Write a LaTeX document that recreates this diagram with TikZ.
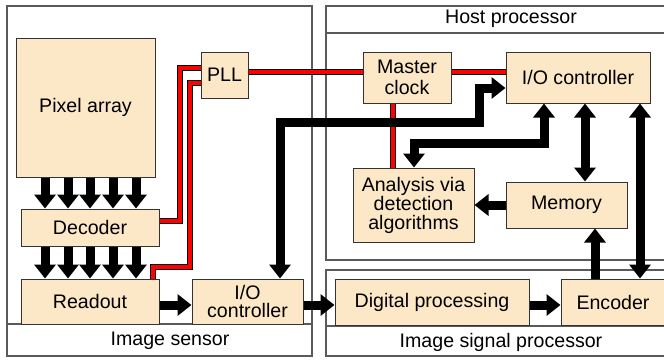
\documentclass[tikz,border=0pt]{standalone}
\usepackage{fontspec}
\setmainfont{Liberation Sans}
\usetikzlibrary{arrows.meta}
\definecolor{blockfill}{HTML}{FCE8C6}
\definecolor{framegray}{HTML}{5A5A5A}

\tikzset{
    block/.style={draw=black!80,line width=1pt,fill=blockfill,inner sep=0pt,align=center},
    frame/.style={draw=framegray,line width=1.1pt},
    bus/.style={line width=9pt,line join=miter,>={Triangle[width=21pt,length=14pt]}},
    clockline/.style={draw=black,line width=1pt,double=red,double distance=3.2pt,line join=miter},
}

\begin{document}
\begin{tikzpicture}[x=1pt,y=-1pt,font=\fontsize{19.6}{21}\selectfont]
    \clip (0,0) rectangle (664,360);
    \fill[white] (0,0) rectangle (664,360);

    % chip outlines
    \draw[frame] (7,6) rectangle (312,356);
    \draw[frame] (7,324) -- (312,324);
    \node (sensorlabel) at (170,341) {Image sensor};
    \draw[frame] (326,6) rectangle (700,260);
    \draw[frame] (326,33) -- (700,33);
    \node (hostlabel) at (511,19) {Host processor};
    \draw[frame] (326,270) rectangle (700,356);
    \draw[frame] (326,326) -- (700,326);
    \node (isplabel) at (501,342) {Image signal processor};

    % blocks
    \node[block,minimum width=139,minimum height=139] (pixel) at (85.5,107.5) {Pixel array};
    \node[block,minimum width=47,minimum height=46] (pll) at (224.5,75) {PLL};
    \node[block,minimum width=138,minimum height=37] (decoder) at (90,227.5) {Decoder};
    \node[block,minimum width=138,minimum height=45] (readout) at (90,301.5) {Readout};
    \node[block,minimum width=111,minimum height=45] (iosens) at (247.5,301.5) {I/O\\[-3pt]controller};
    \node[block,minimum width=88,minimum height=51] (master) at (407,77.5) {Master\\clock};
    \node[block,minimum width=144,minimum height=51] (iohost) at (578,77.5) {I/O controller};
    \node[block,minimum width=121,minimum height=74] (analysis) at (413.5,205) {Analysis via\\[-2pt]detection\\[-2pt]algorithms};
    \node[block,minimum width=121,minimum height=46] (memory) at (566.5,205) {Memory};
    \node[block,minimum width=194,minimum height=46] (digital) at (432,302) {Digital processing};
    \node[block,minimum width=104,minimum height=46] (encoder) at (613,302) {Encoder};

    % clock distribution
    \draw[clockline] (pll.east |- 0,72) -- (master.west |- 0,72);
    \draw[clockline] (master.east |- 0,72) -- (iohost.west |- 0,72);
    \draw[clockline] (master.south -| 393,0) -- (analysis.north -| 393,0);
    \draw[clockline] (pll.west |- 0,68) -| (180,221) -- (decoder.east |- 0,221);
    \draw[clockline] (pll.west |- 0,83) -| (190,267) -| (readout.north -| 153,0);

    % data paths
    \foreach \x in {45,68,90,113,136} {
        \draw[bus,->] (pixel.south -| \x,0) -- (decoder.north -| \x,0);
        \draw[bus,->] (decoder.south -| \x,0) -- (readout.north -| \x,0);
    }
    \draw[bus,->] (readout.east |- 0,305) -- (iosens.west |- 0,305);
    \draw[bus,->] (iosens.east |- 0,305) -- (digital.west |- 0,305);
    \draw[bus,->] (digital.east |- 0,305) -- (encoder.west |- 0,305);
    \draw[bus,->] (encoder.north -| 595,0) -- (memory.south -| 595,0);
    \draw[bus,<->] (memory.north -| 585,0) -- (iohost.south -| 585,0);
    \draw[bus,<->] (encoder.north -| 640,0) -- (iohost.south -| 640,0);
    \draw[bus,->] (memory.west) -- (analysis.east);
    \draw[bus,<->] (analysis.north -| 414,0) |- (544,143) -- (iohost.south -| 544,0);
    \draw[bus,<->] (iosens.north -| 280,0) |- (479,122) |- (iohost.west |- 0,88);
\end{tikzpicture}
\end{document}
